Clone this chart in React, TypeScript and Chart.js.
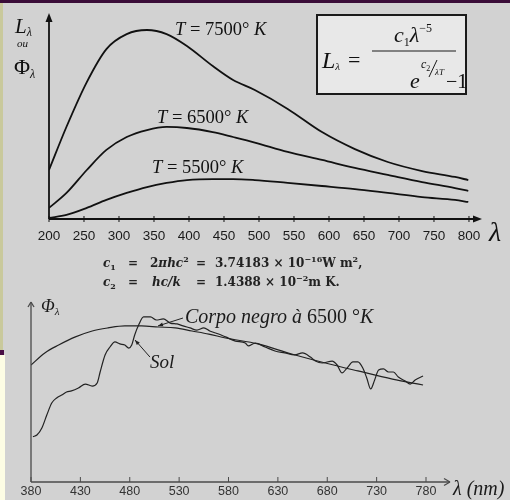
import React, { useEffect, useRef } from 'react';
import { Chart, registerables } from 'chart.js';
Chart.register(...registerables);

// ---------- data ----------
const topTickLabels = [200, 250, 300, 350, 400, 450, 500, 550, 600, 650, 700, 750, 800];
const topWavelengths = [200, 225, 254, 282, 311, 340, 368, 397, 434, 463, 494, 541, 590, 637, 684, 733, 780, 799];
const t7500 = [23.9, 45, 66.8, 82.9, 90.2, 92.2, 90.2, 84.4, 74.6, 67.8, 62.9, 53.7, 42.4, 34.1, 27.8, 23.4, 20.5, 19];
const t6500 = [5.4, 12.7, 23.9, 33.7, 40, 43.4, 44.9, 44.4, 42.4, 40, 37.3, 32.7, 28.8, 24.9, 21.5, 18, 15.1, 13.7];
const t5500 = [0.5, 2, 5.4, 9.3, 12.7, 15.6, 17.6, 19, 19.5, 19.5, 19, 17.6, 16.1, 14.6, 12.7, 10.7, 9.3, 8.3];

const bottomTickLabels = [380, 430, 480, 530, 580, 630, 680, 730, 780];
const sunWavelengths = [382, 386, 391, 396, 401, 406, 411, 416, 421, 428, 435, 442, 447, 450, 455, 460, 465, 470, 475, 479, 482, 485, 489, 494, 501, 507, 514, 521, 528, 534, 541, 548, 555, 561, 570, 577, 587, 597, 600, 607, 617, 627, 637, 647, 655, 663, 668, 675, 685, 690, 695, 700, 706, 711, 716, 720, 724, 728, 732, 737, 742, 747, 752, 759, 764, 769, 777];
const sunValues = [25.2, 26.1, 30, 37.2, 43.9, 46.7, 48.3, 50, 50.6, 52.2, 54.4, 53.3, 55, 61.1, 70.6, 75, 77.8, 76.7, 76.1, 74.4, 76.1, 81.7, 87.2, 91.7, 91.7, 90, 90.6, 88.3, 87.8, 86.7, 85.6, 84.4, 85.6, 83.9, 82.2, 80.6, 78.3, 77.2, 75.6, 77.2, 75, 72.8, 71.7, 70.6, 71.7, 69.4, 67.2, 66.1, 67.2, 65, 60.6, 63.3, 66.7, 66.7, 63.3, 57.8, 51.7, 56.7, 62.2, 62.8, 61.1, 61.1, 58.3, 56.1, 54.4, 56.7, 58.9];
const bbWavelengths = [380, 394, 408, 425, 442, 458, 475, 492, 509, 526, 543, 560, 577, 610, 644, 678, 711, 746, 777];
const bbValues = [65, 71.7, 76.1, 80.6, 83.9, 85.6, 86.7, 86.7, 86.1, 85.6, 83.9, 82.2, 80, 76.7, 71.1, 66.1, 61.7, 57.2, 53.9];

// annotation leader lines, in data coordinates [from, to]
const corpoLeader = [[533.9, 91.1], [508.6, 86.7]];
const solLeader = [[500.5, 69.4], [485.3, 78.9]];

// ---------- helpers ----------
type Seg = [string, string, number?];
const SERIF = '"Liberation Serif", "Times New Roman", serif';
const SANS = '"Liberation Sans", Arial, sans-serif';
const DJ = '"DejaVu Serif", serif';
const sf = (size: number, style = '') => `${style} ${size}px ${SERIF}`.trim();

function rich(ctx: CanvasRenderingContext2D, x: number, y: number, segs: Seg[]) {
  let cx = x;
  for (const [t, f, dy] of segs) {
    ctx.font = f;
    ctx.fillText(t, cx, y + (dy || 0));
    cx += ctx.measureText(t).width;
  }
  return cx;
}
function line(ctx: CanvasRenderingContext2D, x1: number, y1: number, x2: number, y2: number) {
  ctx.beginPath();
  ctx.moveTo(x1, y1);
  ctx.lineTo(x2, y2);
  ctx.stroke();
}
function tri(ctx: CanvasRenderingContext2D, pts: number[][]) {
  ctx.beginPath();
  ctx.moveTo(pts[0][0], pts[0][1]);
  for (let i = 1; i < pts.length; i++) ctx.lineTo(pts[i][0], pts[i][1]);
  ctx.closePath();
  ctx.fill();
}
function arrowHead(ctx: CanvasRenderingContext2D, fx: number, fy: number, tx: number, ty: number, len: number, w: number) {
  const a = Math.atan2(ty - fy, tx - fx);
  const bx = tx - len * Math.cos(a), by = ty - len * Math.sin(a);
  const nx = -Math.sin(a) * w, ny = Math.cos(a) * w;
  tri(ctx, [[tx, ty], [bx + nx, by + ny], [bx - nx, by - ny]]);
}
const toXY = (xs: number[], ys: number[]) => xs.map((x, i) => ({ x, y: ys[i] }));

// ---------- plugins ----------
const topDecor = {
  id: 'topDecor',
  afterDraw(chart: any) {
    const ctx: CanvasRenderingContext2D = chart.ctx;
    const { left, right, top, bottom } = chart.chartArea;
    const xs = chart.scales.x;
    ctx.save();
    ctx.strokeStyle = '#111';
    ctx.fillStyle = '#111';
    ctx.lineWidth = 1.8;
    line(ctx, left, bottom, left, top + 6);
    tri(ctx, [[left, top - 1], [left - 3.5, top + 8], [left + 3.5, top + 8]]);
    line(ctx, left, bottom, right - 6, bottom);
    tri(ctx, [[right, bottom], [right - 9, bottom - 3.5], [right - 9, bottom + 3.5]]);
    ctx.lineWidth = 1;
    for (const v of topTickLabels) {
      const px = xs.getPixelForValue(v);
      line(ctx, px, bottom - 3, px, bottom + 3);
    }
    // axis labels
    ctx.textBaseline = 'alphabetic';
    rich(ctx, 15, 33, [['L', sf(21, 'italic')], ['λ', sf(12, 'italic'), 3]]);
    rich(ctx, 17, 47, [['ou', sf(11, 'italic')]]);
    rich(ctx, 14, 74, [['Φ', sf(22)], ['λ', sf(12, 'italic'), 4]]);
    rich(ctx, 489, 241, [['λ', sf(28, 'italic')]]);
    // curve labels
    rich(ctx, 175, 35, [['T', sf(18.5, 'italic')], [' = 7500° ', sf(18.5)], ['K', sf(18.5, 'italic')]]);
    rich(ctx, 157, 123, [['T', sf(18.5, 'italic')], [' = 6500° ', sf(18.5)], ['K', sf(18.5, 'italic')]]);
    rich(ctx, 152, 173, [['T', sf(18.5, 'italic')], [' = 5500° ', sf(18.5)], ['K', sf(18.5, 'italic')]]);
    // formula box
    ctx.fillStyle = '#e8e8e8';
    ctx.fillRect(317, 15, 149, 79);
    ctx.lineWidth = 2;
    ctx.strokeStyle = '#1a1a1a';
    ctx.strokeRect(317, 15, 149, 79);
    ctx.fillStyle = '#111';
    rich(ctx, 322, 68, [['L', sf(24, 'italic')], ['λ', sf(11, 'italic'), 2]]);
    rich(ctx, 348, 67, [['=', sf(22)]]);
    rich(ctx, 394, 42, [['c', sf(22, 'italic')], ['1', sf(12), 4], ['λ', sf(22, 'italic')], ['−5', sf(12), -10]]);
    ctx.lineWidth = 1.2;
    line(ctx, 372, 51, 456, 51);
    rich(ctx, 410, 88, [['e', sf(22, 'italic')]]);
    rich(ctx, 421, 68, [['c', sf(12, 'italic')], ['2', sf(8), 3]]);
    ctx.lineWidth = 1;
    line(ctx, 429, 77, 437, 60);
    rich(ctx, 435, 75, [['λT', sf(9, 'italic')]]);
    rich(ctx, 446, 88, [['−', sf(20)]]);
    rich(ctx, 457, 88, [['1', sf(22)]]);
    ctx.restore();
  },
};

const botDecor = {
  id: 'botDecor',
  afterDraw(chart: any) {
    const ctx: CanvasRenderingContext2D = chart.ctx;
    const { left, right, top, bottom } = chart.chartArea;
    const xs = chart.scales.x;
    const ys = chart.scales.y;
    ctx.save();
    ctx.strokeStyle = '#4a4a4a';
    ctx.fillStyle = '#4a4a4a';
    ctx.lineWidth = 1.3;
    line(ctx, left, bottom, left, top);
    line(ctx, left - 3, top + 5, left, top);
    line(ctx, left + 3, top + 5, left, top);
    line(ctx, left, bottom, right, bottom);
    line(ctx, right - 6, bottom - 3.5, right, bottom);
    line(ctx, right - 6, bottom + 3.5, right, bottom);
    ctx.lineWidth = 1;
    for (const v of bottomTickLabels) {
      const px = xs.getPixelForValue(v);
      line(ctx, px, bottom - 5, px, bottom);
    }
    // leaders
    ctx.strokeStyle = '#222';
    ctx.fillStyle = '#222';
    for (const ld of [corpoLeader, solLeader]) {
      const fx = xs.getPixelForValue(ld[0][0]), fy = ys.getPixelForValue(ld[0][1]);
      const tx = xs.getPixelForValue(ld[1][0]), ty = ys.getPixelForValue(ld[1][1]);
      ctx.lineWidth = 1;
      line(ctx, fx, fy, tx, ty);
      arrowHead(ctx, fx, fy, tx, ty, 5, 2);
    }
    // texts, page coordinates (canvas starts at page y 250)
    ctx.translate(0, -250);
    ctx.fillStyle = '#1a1a1a';
    ctx.textBaseline = 'alphabetic';
    rich(ctx, 41, 312, [['Φ', sf(18, 'italic')], ['λ', sf(11, 'italic'), 3]]);
    rich(ctx, 185, 323, [['Corpo negro à ', sf(20, 'italic')], ['6500 °', sf(20)], ['K', sf(20, 'italic')]]);
    rich(ctx, 150, 368, [['Sol', sf(19, 'italic')]]);
    rich(ctx, 453, 495, [['λ (nm)', sf(20, 'italic')]]);
    // constants
    const B = `bold 12px ${DJ}`, BI = `italic bold 12px ${DJ}`, S = `bold 8px ${DJ}`;
    ctx.fillStyle = '#222';
    rich(ctx, 103, 267, [['c', BI], ['1', S, 3]]);
    rich(ctx, 128, 267, [['=', B]]);
    rich(ctx, 150, 267, [['2', B], ['πhc', BI], ['2', S, -5]]);
    rich(ctx, 196, 267, [['=', B]]);
    rich(ctx, 215, 267, [['3.74183 × 10', B], ['−16', S, -5], ['W m', B], ['2', S, -5], [',', B]]);
    rich(ctx, 103, 286, [['c', BI], ['2', S, 3]]);
    rich(ctx, 128, 286, [['=', B]]);
    rich(ctx, 152, 286, [['hc/k', BI]]);
    rich(ctx, 196, 286, [['=', B]]);
    rich(ctx, 215, 286, [['1.4388 × 10', B], ['−2', S, -5], ['m K.', B]]);
    ctx.restore();
  },
};

export default function App() {
  const topRef = useRef<HTMLCanvasElement>(null);
  const botRef = useRef<HTMLCanvasElement>(null);

  useEffect(() => {
    const lineDs = (data: { x: number; y: number }[], color: string, width: number, mode: any) => ({
      data,
      borderColor: color,
      borderWidth: width,
      pointRadius: 0,
      fill: false,
      cubicInterpolationMode: mode,
      tension: 0.4,
    });
    const top = new Chart(topRef.current!, {
      type: 'line',
      data: {
        datasets: [
          lineDs(toXY(topWavelengths, t7500), '#111', 1.8, 'monotone'),
          lineDs(toXY(topWavelengths, t6500), '#111', 1.8, 'monotone'),
          lineDs(toXY(topWavelengths, t5500), '#111', 1.8, 'monotone'),
        ],
      },
      options: {
        animation: false,
        responsive: false,
        devicePixelRatio: 1,
        layout: { padding: { left: 49, right: 28, top: 14, bottom: 0 } },
        plugins: { legend: { display: false }, tooltip: { enabled: false } },
        scales: {
          x: {
            type: 'linear',
            min: 200,
            max: 818.6,
            grid: { display: false, drawTicks: false },
            border: { display: false },
            afterBuildTicks: (s: any) => { s.ticks = topTickLabels.map((v) => ({ value: v })); },
            afterFit: (s: any) => { s.height = 31; },
            ticks: { autoSkip: false, maxRotation: 0, padding: 9, color: '#1a1a1a', font: { family: SANS, size: 13.5 } },
          },
          y: { display: false, min: 0, max: 100 },
        },
      } as any,
      plugins: [topDecor],
    });
    const bot = new Chart(botRef.current!, {
      type: 'line',
      data: {
        datasets: [
          lineDs(toXY(bbWavelengths, bbValues), '#222', 1.2, 'monotone'),
          lineDs(toXY(sunWavelengths, sunValues), '#222', 1.2, 'monotone'),
        ],
      },
      options: {
        animation: false,
        responsive: false,
        devicePixelRatio: 1,
        layout: { padding: { left: 31, right: 60, top: 52, bottom: 0 } },
        plugins: { legend: { display: false }, tooltip: { enabled: false } },
        scales: {
          x: {
            type: 'linear',
            min: 380,
            max: 804.3,
            grid: { display: false, drawTicks: false },
            border: { display: false },
            afterBuildTicks: (s: any) => { s.ticks = bottomTickLabels.map((v) => ({ value: v })); },
            afterFit: (s: any) => { s.height = 18; },
            ticks: { autoSkip: false, maxRotation: 0, padding: 2.5, color: '#333', font: { family: SANS, size: 12.5 } },
          },
          y: { display: false, min: 0, max: 100 },
        },
      } as any,
      plugins: [botDecor],
    });
    return () => {
      top.destroy();
      bot.destroy();
    };
  }, []);

  return (
    <div style={{ position: 'fixed', left: 0, top: 0, width: 510, height: 500, background: '#d2d2d2', overflow: 'hidden' }}>
      <div style={{ position: 'absolute', left: 0, top: 0, width: 510, height: 3, background: '#3a0c38' }} />
      <div style={{ position: 'absolute', left: 0, top: 3, width: 3, height: 347, background: '#c9c99c' }} />
      <div style={{ position: 'absolute', left: 0, top: 350, width: 4, height: 5, background: '#4a0f45' }} />
      <div style={{ position: 'absolute', left: 0, top: 355, width: 5, height: 145, background: '#fdfde4' }} />
      <canvas ref={topRef} width={510} height={250} style={{ position: 'absolute', left: 0, top: 0 }} />
      <canvas ref={botRef} width={510} height={250} style={{ position: 'absolute', left: 0, top: 250 }} />
    </div>
  );
}
